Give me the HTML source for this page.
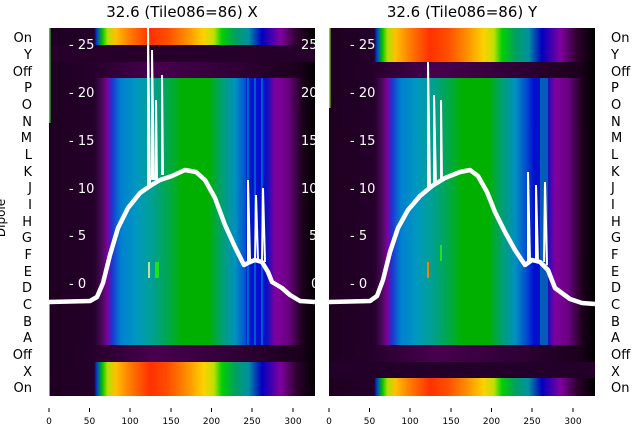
<!DOCTYPE html><html><head><style>body{margin:0;background:#fff}svg{display:block;font-family:"DejaVu Sans","Liberation Sans",sans-serif}</style></head><body>
<svg width="640" height="440" viewBox="0 0 640 440">
<defs>
<linearGradient id="mL" gradientUnits="userSpaceOnUse" x1="49" x2="315" y1="0" y2="0">
<stop offset="0" stop-color="#1e0020"/><stop offset="0.17" stop-color="#24002a"/><stop offset="0.2" stop-color="#4a0a5a"/><stop offset="0.22" stop-color="#8000a0"/><stop offset="0.235" stop-color="#2030d0"/><stop offset="0.27" stop-color="#0080d0"/><stop offset="0.33" stop-color="#0098c0"/><stop offset="0.39" stop-color="#00a090"/><stop offset="0.45" stop-color="#00a848"/><stop offset="0.5" stop-color="#00b000"/><stop offset="0.6" stop-color="#00b000"/><stop offset="0.65" stop-color="#00a070"/><stop offset="0.7" stop-color="#0090c0"/><stop offset="0.74" stop-color="#0050d0"/><stop offset="0.77" stop-color="#0010d0"/><stop offset="0.82" stop-color="#1010c0"/><stop offset="0.85" stop-color="#8000a0"/><stop offset="0.9" stop-color="#6a0080"/><stop offset="0.95" stop-color="#200020"/><stop offset="1" stop-color="#000"/>
</linearGradient>
<linearGradient id="cL" gradientUnits="userSpaceOnUse" x1="49" x2="315" y1="0" y2="0">
<stop offset="0" stop-color="#1e0020"/><stop offset="0.17" stop-color="#24002a"/><stop offset="0.18" stop-color="#0040d0"/><stop offset="0.2" stop-color="#00c000"/><stop offset="0.22" stop-color="#b0e000"/><stop offset="0.25" stop-color="#ffc000"/><stop offset="0.3" stop-color="#ff8000"/><stop offset="0.38" stop-color="#ff3000"/><stop offset="0.45" stop-color="#ff5000"/><stop offset="0.52" stop-color="#ff9000"/><stop offset="0.58" stop-color="#ffd000"/><stop offset="0.62" stop-color="#c0e000"/><stop offset="0.65" stop-color="#00d000"/><stop offset="0.7" stop-color="#00a060"/><stop offset="0.75" stop-color="#0090a0"/><stop offset="0.8" stop-color="#0000c0"/><stop offset="0.87" stop-color="#8000a0"/><stop offset="0.93" stop-color="#300030"/><stop offset="1" stop-color="#000"/>
</linearGradient>
<linearGradient id="dL" gradientUnits="userSpaceOnUse" x1="49" x2="315" y1="0" y2="0">
<stop offset="0" stop-color="#1e0020"/><stop offset="0.15" stop-color="#24002a"/><stop offset="0.4" stop-color="#48004e"/><stop offset="0.7" stop-color="#300036"/><stop offset="0.95" stop-color="#1a001a"/><stop offset="1" stop-color="#000"/>
</linearGradient>
<linearGradient id="mR" href="#mL" x1="329" x2="595"/>
<linearGradient id="cR" href="#cL" x1="329" x2="595"/>
<linearGradient id="dR" href="#dL" x1="329" x2="595"/>
</defs>
<rect x="49" y="28" width="266" height="368" fill="#1e0020"/>
<rect x="49" y="28" width="266" height="17" fill="url(#cL)"/>
<rect x="49" y="45" width="266" height="17" fill="#26002a"/>
<rect x="49" y="62" width="266" height="16" fill="url(#dL)"/>
<rect x="49" y="78" width="266" height="267" fill="url(#mL)"/>
<rect x="49" y="345" width="266" height="17" fill="url(#dL)"/>
<rect x="49" y="362" width="266" height="34" fill="url(#cL)"/>
<g fill="#0010d0"><rect x="246" y="78" width="20" height="267" opacity="0.6"/></g>
<g stroke="#00a0d0" stroke-width="1"><line x1="248" y1="78" x2="248" y2="345"/><line x1="255" y1="78" x2="255" y2="345"/><line x1="262" y1="78" x2="262" y2="345"/></g>
<rect x="148" y="262" width="2" height="16" fill="#c0e0a0"/><rect x="155" y="262" width="4" height="16" fill="#20e020"/>
<rect x="49" y="28" width="1.5" height="95" fill="#30d030"/><rect x="49" y="302" width="1" height="94" fill="#30d030"/>
<rect x="329" y="28" width="266" height="368" fill="#1e0020"/>
<rect x="329" y="28" width="266" height="34" fill="url(#cR)"/>
<rect x="329" y="62" width="266" height="16" fill="url(#dR)"/>
<rect x="329" y="78" width="266" height="267" fill="url(#mR)"/>
<rect x="329" y="345" width="266" height="17" fill="url(#dR)"/>
<rect x="329" y="362" width="266" height="16" fill="#22002a"/>
<rect x="329" y="378" width="266" height="18" fill="url(#cR)"/>
<rect x="540" y="78" width="8" height="267" fill="#0090b0" opacity="0.6"/>
<rect x="427" y="262" width="2" height="16" fill="#ff8000"/><rect x="440" y="245" width="2" height="16" fill="#20e020"/>
<rect x="329" y="28" width="1.5" height="80" fill="#80e000"/>
<g fill="none" stroke="#fff" stroke-width="4.5" stroke-linejoin="round">
<path d="M49,302 L90,301 L97,297 L103,283 L110,255 L118,228 L128,208 L140,193 L150,186 L160,180 L172,176 L185,170 L196,172 L205,180 L215,198 L225,225 L235,247 L244,265 L250,262 L255,260 L262,262 L268,272 L272,282 L282,288 L290,295 L300,301 L315,302"/>
<path d="M329,302 L370,301 L377,296 L383,280 L390,252 L398,228 L408,210 L420,196 L432,186 L445,178 L460,172 L470,170 L478,176 L487,192 L495,212 L505,232 L515,250 L525,265 L532,260 L540,262 L548,270 L555,288 L570,299 L582,303 L595,304"/>
</g>
<g stroke="#fff" stroke-width="2" fill="none">
<path d="M148,185 L148,28 L150,185"/><path d="M152,180 L152,50 L154,180"/><path d="M156,180 L156,100 L157,180"/><path d="M162,175 L162,75 L163,175"/>
<path d="M248,265 L248,180 L250,260"/><path d="M255,260 L256,195 L258,260"/><path d="M262,260 L263,188 L265,262"/>
<path d="M428,188 L428,62 L430,188"/><path d="M434,185 L434,95 L436,185"/><path d="M441,182 L441,100 L442,182"/>
<path d="M528,265 L528,172 L530,262"/><path d="M536,262 L536,185 L538,262"/><path d="M544,262 L545,182 L547,265"/>
</g>
<g font-size="15" fill="#000" text-anchor="middle"><text x="182" y="17">32.6 (Tile086=86) X</text><text x="462" y="17">32.6 (Tile086=86) Y</text></g>
<g font-size="13" fill="#000">
<g text-anchor="end">
<text x="32" y="42">On</text><text x="32" y="59">Y</text><text x="32" y="76">Off</text><text x="32" y="92">P</text><text x="32" y="109">O</text><text x="32" y="126">N</text><text x="32" y="142">M</text><text x="32" y="159">L</text><text x="32" y="176">K</text><text x="32" y="192">J</text><text x="32" y="209">I</text><text x="32" y="226">H</text><text x="32" y="242">G</text><text x="32" y="259">F</text><text x="32" y="276">E</text><text x="32" y="292">D</text><text x="32" y="309">C</text><text x="32" y="326">B</text><text x="32" y="342">A</text><text x="32" y="359">Off</text><text x="32" y="376">X</text><text x="32" y="392">On</text>
</g>
<g>
<text x="611" y="42">On</text><text x="611" y="59">Y</text><text x="611" y="76">Off</text><text x="611" y="92">P</text><text x="611" y="109">O</text><text x="611" y="126">N</text><text x="611" y="142">M</text><text x="611" y="159">L</text><text x="611" y="176">K</text><text x="611" y="192">J</text><text x="611" y="209">I</text><text x="611" y="226">H</text><text x="611" y="242">G</text><text x="611" y="259">F</text><text x="611" y="276">E</text><text x="611" y="292">D</text><text x="611" y="309">C</text><text x="611" y="326">B</text><text x="611" y="342">A</text><text x="611" y="359">Off</text><text x="611" y="376">X</text><text x="611" y="392">On</text>
</g>
<text transform="translate(5,218) rotate(-90)" text-anchor="middle" font-size="12">Dipole</text>
</g>
<g font-size="13" fill="#fff">
<text x="69" y="49">- 25</text><text x="69" y="97">- 20</text><text x="69" y="145">- 15</text><text x="69" y="193">- 10</text><text x="69" y="240">- 5</text><text x="69" y="288">- 0</text>
<text x="301" y="49">25</text><text x="301" y="97">20</text><text x="301" y="145">15</text><text x="301" y="193">10</text><text x="309" y="240">5</text><text x="311" y="288">0</text>
<text x="350" y="49">- 25</text><text x="350" y="97">- 20</text><text x="350" y="145">- 15</text><text x="350" y="193">- 10</text><text x="350" y="240">- 5</text><text x="350" y="288">- 0</text>
</g>
<g stroke="#000" stroke-width="1">
<line x1="49" y1="408" x2="49" y2="412"/><line x1="89.5" y1="408" x2="89.5" y2="412"/><line x1="130" y1="408" x2="130" y2="412"/><line x1="171" y1="408" x2="171" y2="412"/><line x1="211.5" y1="408" x2="211.5" y2="412"/><line x1="252" y1="408" x2="252" y2="412"/><line x1="293" y1="408" x2="293" y2="412"/>
<line x1="329" y1="408" x2="329" y2="412"/><line x1="369.5" y1="408" x2="369.5" y2="412"/><line x1="410" y1="408" x2="410" y2="412"/><line x1="451" y1="408" x2="451" y2="412"/><line x1="491.5" y1="408" x2="491.5" y2="412"/><line x1="532" y1="408" x2="532" y2="412"/><line x1="573" y1="408" x2="573" y2="412"/>
</g>
<g font-size="9" fill="#000" text-anchor="middle">
<text x="49" y="424">0</text><text x="89.5" y="424">50</text><text x="130" y="424">100</text><text x="171" y="424">150</text><text x="211.5" y="424">200</text><text x="252" y="424">250</text><text x="293" y="424">300</text>
<text x="329" y="424">0</text><text x="369.5" y="424">50</text><text x="410" y="424">100</text><text x="451" y="424">150</text><text x="491.5" y="424">200</text><text x="532" y="424">250</text><text x="573" y="424">300</text>
</g>
</svg>
</body></html>
